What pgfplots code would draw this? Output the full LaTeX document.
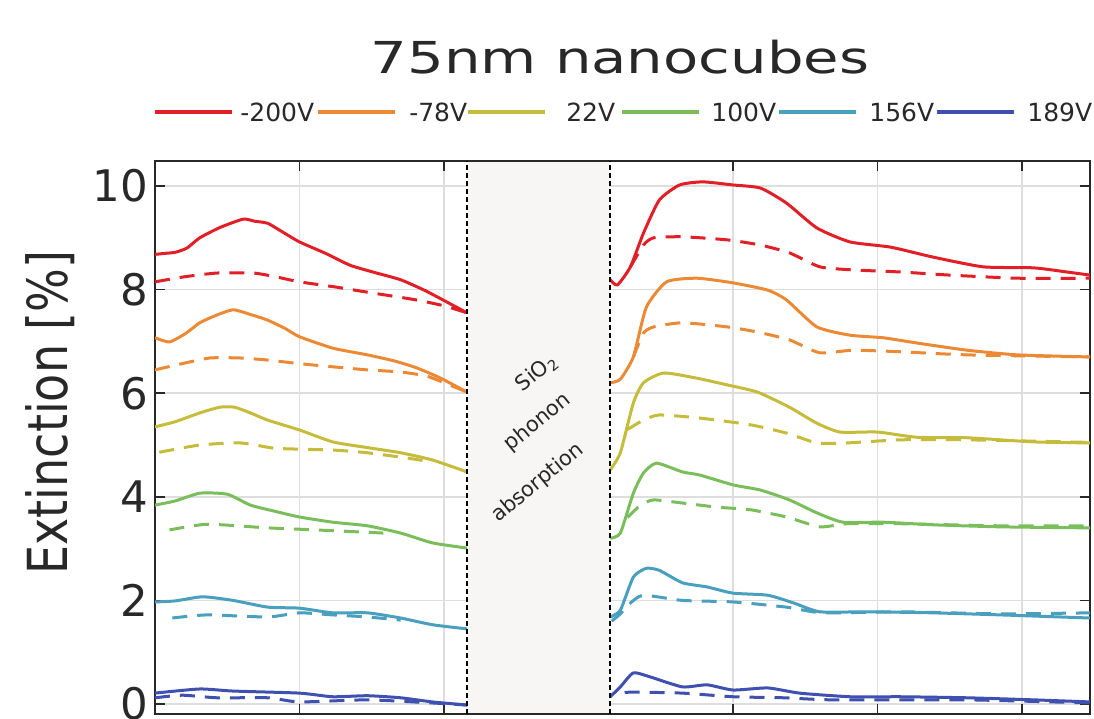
\documentclass[border=0pt]{standalone}
\usepackage{pgfplots}
\pgfplotsset{compat=1.18}
\usepackage{fontspec}
\setmainfont{DejaVu Sans}
\usepackage{graphicx}
\definecolor{cRed}{RGB}{226,30,38}
\definecolor{cOrange}{RGB}{236,137,52}
\definecolor{cYellow}{RGB}{196,188,58}
\definecolor{cGreen}{RGB}{122,190,92}
\definecolor{cCyan}{RGB}{72,160,190}
\definecolor{cBlue}{RGB}{62,80,176}
\definecolor{cText}{RGB}{40,40,40}
\definecolor{cGrid}{RGB}{222,222,222}
\definecolor{cBand}{RGB}{247,246,244}
\begin{document}
\begin{tikzpicture}
\begin{axis}[
  at={(155pt,5pt)}, anchor=south west,
  scale only axis, width=935pt, height=553pt,
  xmin=0, xmax=6.47, ymin=-0.193, ymax=10.483,
  xtick={1,2,3,4,5,6}, xticklabels={},
  ytick={0,2,4,6,8,10},
  /pgf/number format/assume math mode=true,
  tick align=inside, tick pos=both,
  major tick length=10pt,
  tick style={line width=1.5pt, color=cText},
  grid=major, major grid style={cGrid, line width=1.5pt},
  axis line style={cText, line width=1.8pt},
  yticklabel style={font=\fontsize{43.5}{50}\selectfont, text=cText, inner sep=0pt, xshift=-7pt},
  title={\scalebox{1.31}[1]{75nm nanocubes}},
  title style={at={(axis description cs:0.4973,1.1465)}, anchor=base, font=\fontsize{44}{50}\selectfont, text=cText, inner sep=0pt},
  ylabel={\scalebox{1}[1.2]{Extinction [\%]}},
  ylabel style={at={(axis description cs:-0.1123,0.545)}, anchor=center, font=\fontsize{46}{52}\selectfont, text=cText},
  legend columns=6,
  legend image code/.code={\draw[#1, solid, line width=4pt] (0pt,0pt) -- (77pt,0pt);},
  legend style={draw=none, fill=none, inner sep=0pt, column sep=0pt,
    nodes={inner sep=0pt, text depth=0pt, font=\fontsize{25}{28}\selectfont, text=cText},
    at={(axis description cs:-0.0021,1.0886)}, anchor=west},
  every axis plot/.append style={line join=round, smooth, tension=0.35},
]
% band
\fill[cBand] (axis cs:2.16,-0.17) rectangle (axis cs:3.15,10.46);

% ---- left solid (legend) ----
\addplot[cRed, line width=3pt] coordinates {(0,8.68)(0.07,8.70)(0.14,8.72)(0.22,8.80)(0.31,9.00)(0.45,9.20)(0.61,9.36)(0.69,9.32)(0.78,9.28)(0.89,9.10)(1.00,8.92)(1.18,8.70)(1.35,8.47)(1.52,8.33)(1.70,8.19)(1.87,7.98)(2.02,7.76)(2.16,7.55)};
\addlegendentry{\makebox[80pt][r]{-200V}\hspace*{2pt}}
\addplot[cOrange, line width=3pt] coordinates {(0,7.07)(0.10,6.99)(0.21,7.15)(0.31,7.36)(0.42,7.50)(0.54,7.61)(0.66,7.52)(0.78,7.41)(0.90,7.25)(1.00,7.09)(1.23,6.87)(1.47,6.74)(1.66,6.62)(1.81,6.49)(1.97,6.30)(2.16,6.02)};
\addlegendentry{\makebox[70pt][r]{-78V}\hspace*{-1pt}}
\addplot[cYellow, line width=3pt] coordinates {(0,5.35)(0.14,5.45)(0.31,5.62)(0.45,5.73)(0.55,5.73)(0.66,5.62)(0.78,5.48)(1.00,5.29)(1.23,5.06)(1.47,4.95)(1.70,4.85)(1.92,4.71)(2.16,4.48)};
\addlegendentry{\makebox[68pt][r]{22V}\hspace*{5pt}}
\addplot[cGreen, line width=3pt] coordinates {(0,3.84)(0.14,3.92)(0.31,4.07)(0.50,4.05)(0.66,3.84)(0.83,3.72)(1.00,3.61)(1.23,3.51)(1.47,3.44)(1.70,3.30)(1.92,3.11)(2.16,3.01)};
\addlegendentry{\makebox[75pt][r]{100V}\hspace*{1pt}}
\addplot[cCyan, line width=3pt] coordinates {(0,1.97)(0.14,1.99)(0.33,2.07)(0.54,2.00)(0.78,1.87)(1.00,1.85)(1.23,1.76)(1.47,1.76)(1.70,1.66)(1.92,1.53)(2.16,1.45)};
\addlegendentry{\makebox[76pt][r]{156V}\hspace*{1pt}}
\addplot[cBlue, line width=3pt] coordinates {(0,0.21)(0.31,0.29)(0.54,0.25)(1.00,0.21)(1.23,0.14)(1.47,0.16)(1.70,0.12)(1.92,0.04)(2.16,-0.02)};
\addlegendentry{\makebox[76pt][r]{189V}}

% ---- left dashed ----
\addplot[cRed, line width=3pt, dash pattern=on 15pt off 10pt, forget plot] coordinates {(0,8.15)(0.21,8.25)(0.43,8.32)(0.68,8.32)(0.83,8.25)(1.00,8.15)(1.25,8.05)(1.47,7.95)(1.81,7.80)(2.01,7.68)(2.16,7.55)};
\addplot[cOrange, line width=3pt, dash pattern=on 15pt off 10pt, forget plot] coordinates {(0,6.45)(0.17,6.56)(0.38,6.68)(0.59,6.68)(0.78,6.64)(1.00,6.57)(1.23,6.51)(1.47,6.45)(1.70,6.41)(1.88,6.33)(2.02,6.18)(2.16,6.02)};
\addplot[cYellow, line width=3pt, dash pattern=on 15pt off 10pt, forget plot] coordinates {(0.03,4.86)(0.31,5.00)(0.59,5.04)(0.82,4.94)(1.00,4.92)(1.25,4.90)(1.47,4.85)(1.74,4.75)(1.90,4.68)};
\addplot[cGreen, line width=3pt, dash pattern=on 15pt off 10pt, forget plot] coordinates {(0.10,3.36)(0.36,3.47)(0.78,3.40)(1.12,3.36)(1.58,3.30)};
\addplot[cCyan, line width=3pt, dash pattern=on 15pt off 10pt, forget plot] coordinates {(0.12,1.66)(0.36,1.72)(0.78,1.68)(1.00,1.76)(1.23,1.72)(1.47,1.68)(1.70,1.62)};
\addplot[cBlue, line width=3pt, dash pattern=on 15pt off 10pt, forget plot] coordinates {(0,0.12)(0.19,0.17)(0.43,0.12)(0.78,0.12)(1.00,0.04)(1.47,0.08)(1.92,0.02)(2.16,-0.02)};

% ---- right solid ----
\addplot[cRed, line width=3pt, forget plot] coordinates {(3.15,8.19)(3.20,8.09)(3.29,8.44)(3.38,9.09)(3.49,9.73)(3.63,10.02)(3.79,10.08)(4.00,10.02)(4.19,9.96)(4.37,9.67)(4.58,9.19)(4.81,8.92)(5.09,8.82)(5.38,8.63)(5.73,8.44)(6.08,8.42)(6.31,8.34)(6.47,8.28)};
\addplot[cOrange, line width=3pt, forget plot] coordinates {(3.15,6.20)(3.22,6.27)(3.31,6.70)(3.40,7.66)(3.54,8.15)(3.75,8.22)(4.00,8.13)(4.24,7.99)(4.37,7.80)(4.58,7.28)(4.81,7.12)(5.04,7.07)(5.27,6.97)(5.62,6.83)(5.97,6.74)(6.47,6.70)};
\addplot[cYellow, line width=3pt, forget plot] coordinates {(3.15,4.52)(3.22,4.85)(3.31,5.81)(3.38,6.20)(3.52,6.39)(3.75,6.29)(3.96,6.16)(4.17,6.02)(4.39,5.73)(4.58,5.42)(4.74,5.25)(5.00,5.25)(5.27,5.15)(5.62,5.14)(6.08,5.06)(6.47,5.04)};
\addplot[cGreen, line width=3pt, forget plot] coordinates {(3.15,3.20)(3.22,3.30)(3.31,4.07)(3.38,4.46)(3.47,4.65)(3.65,4.48)(3.77,4.42)(4.00,4.23)(4.19,4.13)(4.39,3.94)(4.58,3.69)(4.76,3.51)(5.04,3.51)(5.38,3.46)(5.85,3.42)(6.47,3.40)};
\addplot[cCyan, line width=3pt, forget plot] coordinates {(3.15,1.68)(3.22,1.81)(3.31,2.45)(3.40,2.62)(3.49,2.58)(3.65,2.34)(3.82,2.26)(4.00,2.14)(4.24,2.10)(4.42,1.95)(4.60,1.78)(4.93,1.78)(5.38,1.76)(5.85,1.72)(6.47,1.66)};
\addplot[cBlue, line width=3pt, forget plot] coordinates {(3.15,0.14)(3.22,0.33)(3.31,0.60)(3.43,0.52)(3.65,0.33)(3.82,0.37)(4.00,0.27)(4.24,0.31)(4.46,0.21)(4.81,0.14)(5.16,0.14)(5.62,0.12)(6.08,0.08)(6.47,0.04)};

% ---- right dashed ----
\addplot[cRed, line width=3pt, dash pattern=on 15pt off 10pt, forget plot] coordinates {(3.29,8.44)(3.38,8.86)(3.45,9.00)(3.65,9.02)(3.96,8.96)(4.19,8.86)(4.39,8.71)(4.60,8.44)(4.83,8.38)(5.16,8.34)(5.50,8.28)(5.97,8.22)(6.47,8.22)};
\addplot[cOrange, line width=3pt, dash pattern=on 15pt off 10pt, forget plot] coordinates {(3.31,6.70)(3.38,7.16)(3.45,7.28)(3.65,7.36)(3.96,7.28)(4.17,7.18)(4.39,7.03)(4.60,6.78)(4.83,6.83)(5.16,6.80)(5.62,6.74)(6.47,6.70)};
\addplot[cYellow, line width=3pt, dash pattern=on 15pt off 10pt, forget plot] coordinates {(3.27,5.30)(3.38,5.48)(3.49,5.58)(3.77,5.52)(4.12,5.39)(4.37,5.23)(4.58,5.04)(4.79,5.04)(5.16,5.10)(5.62,5.10)(6.47,5.05)};
\addplot[cGreen, line width=3pt, dash pattern=on 15pt off 10pt, forget plot] coordinates {(3.27,3.60)(3.36,3.84)(3.45,3.94)(3.65,3.88)(3.89,3.80)(4.12,3.75)(4.37,3.61)(4.60,3.42)(4.79,3.48)(5.16,3.48)(5.85,3.44)(6.47,3.44)};
\addplot[cCyan, line width=3pt, dash pattern=on 15pt off 10pt, forget plot] coordinates {(3.16,1.60)(3.22,1.74)(3.29,1.95)(3.38,2.10)(3.65,2.00)(4.00,1.97)(4.37,1.87)(4.62,1.76)(5.16,1.78)(5.85,1.74)(6.47,1.76)};
\addplot[cBlue, line width=3pt, dash pattern=on 15pt off 10pt, forget plot] coordinates {(3.25,0.22)(3.31,0.23)(3.65,0.21)(4.00,0.14)(4.35,0.12)(4.69,0.08)(5.62,0.08)(6.47,0.02)};

% band edges and text
\draw[black, line width=1.8pt, dash pattern=on 5pt off 3pt] (axis cs:2.16,-0.193) -- (axis cs:2.16,10.483);
\draw[black, line width=1.8pt, dash pattern=on 5pt off 3pt] (axis cs:3.15,-0.193) -- (axis cs:3.15,10.483);
\node[rotate=39, font=\fontsize{21}{24}\selectfont, text=cText] at (axis cs:2.64,6.39) {SiO\textsubscript{2}};
\node[rotate=39, font=\fontsize{21}{24}\selectfont, text=cText] at (axis cs:2.65,5.44) {phonon};
\node[rotate=39, font=\fontsize{21}{24}\selectfont, text=cText] at (axis cs:2.65,4.27) {absorption};
\end{axis}
\pgfresetboundingbox
\path[use as bounding box] (0,0) rectangle (1094pt,719pt);
\end{tikzpicture}
\end{document}
